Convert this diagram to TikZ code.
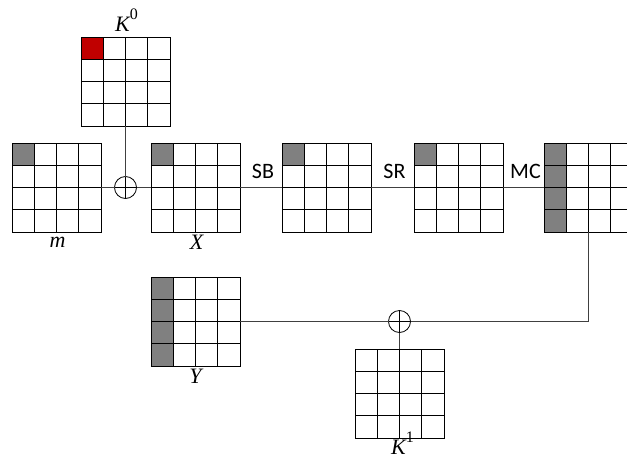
\documentclass[tikz,border=0pt]{standalone}
\usepackage{fontspec}
\setmainfont{Liberation Serif}
\newfontfamily\lblfont{Carlito}
\usetikzlibrary{calc}
\definecolor{cellgray}{HTML}{808080}
\definecolor{cellred}{HTML}{C00000}
\newcommand\keysup[1]{\raisebox{12pt}{\upshape\fontsize{16}{16}\selectfont #1}}
\tikzset{
 gridbox/.style={minimum size=89pt, inner sep=0pt, outer sep=0pt},
 gridline/.style={line width=0.9pt, black},
 conn/.style={line width=0.8pt, black!75},
 xorop/.style={circle, draw=black, line width=0.8pt, minimum size=22pt, inner sep=0pt, outer sep=0pt,
   path picture={\draw[line width=0.8pt] (path picture bounding box.north) -- (path picture bounding box.south)
     (path picture bounding box.west) -- (path picture bounding box.east);}},
 oplabel/.style={font=\lblfont\fontsize{22}{22}\selectfont, text=black, inner sep=0pt, above=8pt, xshift=2pt},
 varlabel/.style={font=\fontsize{22}{22}\selectfont\itshape, text=black, inner sep=0pt, anchor=base},
}
\newcommand\aesgrid[4]{%
 \node[gridbox] (#1) at (#2,#3) {};
 #4
 \foreach \i in {1,2,3}{
   \draw[gridline] ($(#1.north west)!\i/4!(#1.north east)$) -- ($(#1.south west)!\i/4!(#1.south east)$);
   \draw[gridline] ($(#1.north west)!\i/4!(#1.south west)$) -- ($(#1.north east)!\i/4!(#1.south east)$);
 }
 \draw[gridline] (#1.north west) rectangle (#1.south east);
}
\newcommand\cellfill[4]{%
 \fill[#4] ($(#1.north west)+(#2*22.25,#3*22.25)$) rectangle ++(22.25,22.25);
}
\begin{document}
\begin{tikzpicture}[x=1pt,y=-1pt]
\clip (0,0) rectangle (627,458);
\fill[white] (0,0) rectangle (627,458);
% grids
\aesgrid{K0}{125.5}{81.5}{\cellfill{K0}{0}{0}{cellred}}
\aesgrid{m}{56.5}{187.5}{\cellfill{m}{0}{0}{cellgray}}
\aesgrid{X}{195.5}{187.5}{\cellfill{X}{0}{0}{cellgray}}
\aesgrid{S1}{326.5}{187.5}{\cellfill{S1}{0}{0}{cellgray}}
\aesgrid{S2}{458.5}{187.5}{\cellfill{S2}{0}{0}{cellgray}}
\aesgrid{G5}{588.5}{187.5}{\foreach \r in {0,1,2,3}{\cellfill{G5}{0}{\r}{cellgray}}}
\aesgrid{Y}{195.5}{321.5}{\foreach \r in {0,1,2,3}{\cellfill{Y}{0}{\r}{cellgray}}}
\aesgrid{K1}{399.5}{393.5}{}
% xor operators
\node[xorop] (xor1) at (125.5,187.5) {};
\node[xorop] (xor2) at (399.5,321.5) {};
% connectors
\draw[conn] (m.east) -- (xor1.west);
\draw[conn] (xor1.east) -- (X.west);
\draw[conn] (K0.south) -- (xor1.north);
\draw[conn] (X.east) -- node[oplabel] (sb) {SB} (S1.west);
\draw[conn] (S1.east) -- node[oplabel] (sr) {SR} (S2.west);
\draw[conn] (S2.east) -- node[oplabel] (mc) {MC} (G5.west);
\draw[conn] (G5.south) |- (xor2.east);
\draw[conn] (Y.east) -- (xor2.west);
\draw[conn] (K1.north) -- (xor2.south);
% labels
\node[varlabel] (K0lab) at ($(K0.north)+(1,-6)$) {K\keysup{0}};
\node[varlabel] (mlab) at ($(m.south)+(1,15)$) {m};
\node[varlabel] (Xlab) at ($(X.south)+(1,17)$) {X};
\node[varlabel] (Ylab) at ($(Y.south)+(0,17)$) {Y};
\node[varlabel] (K1lab) at ($(K1.south)+(3,16)$) {K\keysup{1}};
\end{tikzpicture}
\end{document}
